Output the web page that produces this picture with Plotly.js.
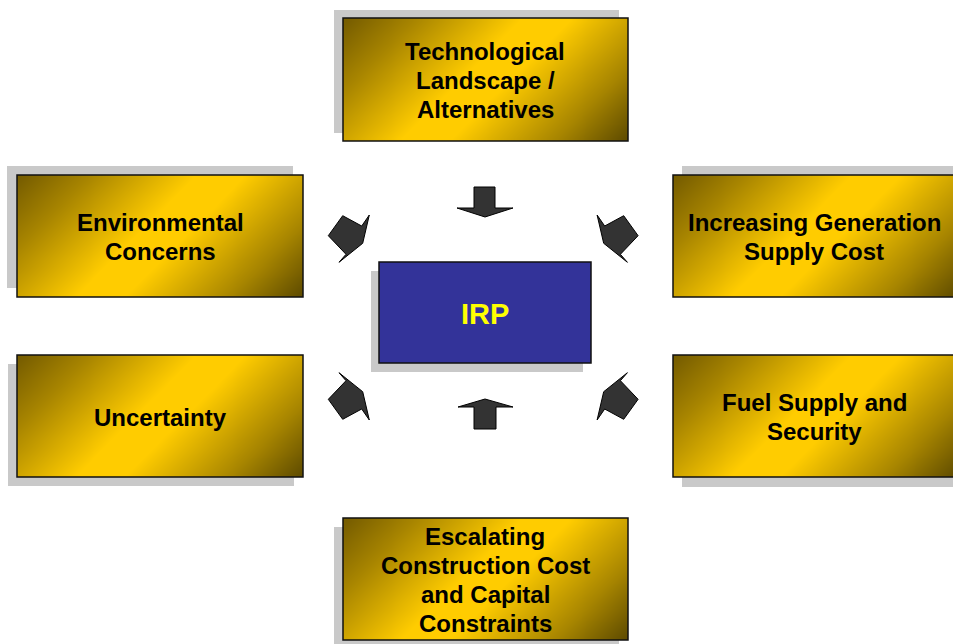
<!DOCTYPE html>
<html>
<head>
<meta charset="utf-8">
<script src="https://cdn.plot.ly/plotly-3.0.1.min.js"></script>
<style>
html,body{margin:0;padding:0;background:#ffffff;}
#chart{width:953px;height:644px;}
</style>
</head>
<body>
<div id="chart"></div>
<script>
// ---- diagram content ----
const labels = [
  ["Technological", "Landscape /", "Alternatives"],
  ["Environmental", "Concerns"],
  ["Increasing Generation", "Supply Cost"],
  ["Uncertainty"],
  ["Fuel Supply and", "Security"],
  ["Escalating", "Construction Cost", "and Capital", "Constraints"]
];
const centerLabel = "IRP";

// ---- box geometry (pixel space) ----
const boxX0 = [343, 17, 673, 17, 673, 343];
const boxX1 = [628, 303, 958, 303, 958, 628];
const boxY0 = [18, 175, 175, 355, 355, 518];
const boxY1 = [141, 297, 297, 477, 477, 640];
const shadowDX = [-9, -10, 9, -9, 9, -9];
const shadowDY = [-8, -9, -9, 9, 10, 9];
const textCX = [485, 160, 814, 160, 814, 485];

const irpBox = [379, 262, 591, 363];
const irpShadow = [-8, 9];

// arrows
const arrowDown = [[474,187],[495,187],[495,208],[513,208],[485,217],[457,208],[474,208]];
const arrowUp = [[474,429],[496,429],[496,407],[513,407],[485,399],[458,407],[474,407]];
const arrowUL = [[342.7,215.7],[328.3,235.7],[346,254.3],[339,262.3],[362.7,243.3],[369.3,215],[361.7,226]];
const mirrorX = 966.4, mirrorY = 635;

const gradStops = [[0,'#735a00'],[0.18,'#a88500'],[0.44,'#ffcc00'],[0.56,'#ffcc00'],[0.82,'#a68400'],[1,'#5c4900']];

function pathOf(pts){
  return 'M ' + pts.map(p => p[0] + ',' + p[1]).join(' L ') + ' Z';
}

const traces = [];
const shapes = [];
const annotations = [];

for (let b = 0; b < labels.length; b++) {
  const x0 = boxX0[b], x1 = boxX1[b], y0 = boxY0[b], y1 = boxY1[b];
  const w = x1 - x0, h = y1 - y0;
  // shadow
  shapes.push({type:'rect', xref:'x', yref:'y', layer:'below',
    x0:x0+shadowDX[b], x1:x1+shadowDX[b], y0:y0+shadowDY[b], y1:y1+shadowDY[b],
    fillcolor:'#c9c9c9', line:{width:0}});
  // gradient fill (45 degree linear gradient)
  const nx = 48, ny = 20;
  const xs = [], ys = [], z = [];
  for (let i = 0; i <= nx; i++) xs.push(x0 + w * i / nx);
  for (let j = 0; j <= ny; j++) ys.push(y0 + h * j / ny);
  for (let j = 0; j < ny; j++) {
    const row = [];
    const cy = h * (j + 0.5) / ny;
    for (let i = 0; i < nx; i++) {
      const cx = w * (i + 0.5) / nx;
      row.push((cx + cy) / (w + h));
    }
    z.push(row);
  }
  traces.push({type:'heatmap', x:xs, y:ys, z:z, zmin:0, zmax:1,
    colorscale:gradStops, showscale:false, zsmooth:'best', hoverinfo:'skip'});
  // border
  shapes.push({type:'rect', xref:'x', yref:'y', layer:'above',
    x0:x0, x1:x1, y0:y0, y1:y1, fillcolor:'rgba(0,0,0,0)', line:{color:'#111111', width:1.5}});
  // text lines
  const lines = labels[b];
  const cyMid = (y0 + y1) / 2;
  for (let k = 0; k < lines.length; k++) {
    annotations.push({xref:'x', yref:'y', x:textCX[b], y:cyMid + (k - (lines.length - 1) / 2) * 29 + 1,
      text:'<b>' + lines[k] + '</b>', showarrow:false, xanchor:'center', yanchor:'middle',
      font:{family:'Arial, "Liberation Sans", sans-serif', size:24, color:'#000000'}});
  }
}

// IRP box
shapes.push({type:'rect', xref:'x', yref:'y', layer:'below',
  x0:irpBox[0]+irpShadow[0], x1:irpBox[2]+irpShadow[0], y0:irpBox[1]+irpShadow[1], y1:irpBox[3]+irpShadow[1],
  fillcolor:'#c9c9c9', line:{width:0}});
shapes.push({type:'rect', xref:'x', yref:'y', layer:'above',
  x0:irpBox[0], x1:irpBox[2], y0:irpBox[1], y1:irpBox[3],
  fillcolor:'#333399', line:{color:'#111111', width:1.5}});
annotations.push({xref:'x', yref:'y', x:(irpBox[0]+irpBox[2])/2, y:(irpBox[1]+irpBox[3])/2 + 1,
  text:'<b>' + centerLabel + '</b>', showarrow:false, xanchor:'center', yanchor:'middle',
  font:{family:'Arial, "Liberation Sans", sans-serif', size:29, color:'#ffff00'}});

// arrows
const arrowSets = [
  arrowDown,
  arrowUp,
  arrowUL,
  arrowUL.map(p => [mirrorX - p[0], p[1]]),
  arrowUL.map(p => [p[0], mirrorY - p[1]]),
  arrowUL.map(p => [mirrorX - p[0], mirrorY - p[1]])
];
arrowSets.forEach(pts => {
  shapes.push({type:'path', xref:'x', yref:'y', layer:'above', path:pathOf(pts),
    fillcolor:'#333333', line:{color:'#000000', width:1}});
});

const layout = {
  width:953, height:644,
  margin:{l:0, r:0, t:0, b:0, pad:0},
  paper_bgcolor:'#ffffff', plot_bgcolor:'#ffffff',
  showlegend:false,
  xaxis:{range:[0,953], visible:false, fixedrange:true},
  yaxis:{range:[644,0], visible:false, fixedrange:true},
  shapes:shapes,
  annotations:annotations
};

Plotly.newPlot('chart', traces, layout, {staticPlot:true, displayModeBar:false});
</script>
</body>
</html>
